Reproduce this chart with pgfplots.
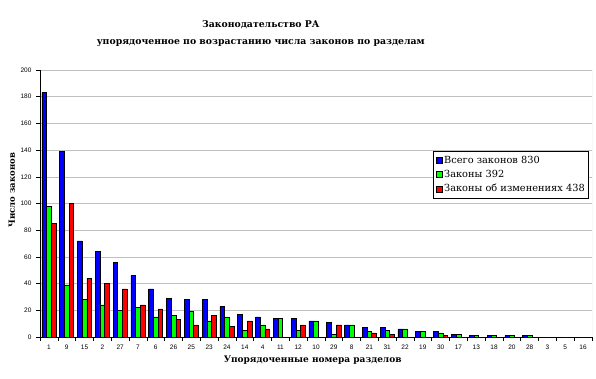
\documentclass[border=0pt]{standalone}
\usepackage{pgfplots}
\pgfplotsset{compat=1.18}
\usepackage{fontspec}
\setmainfont{DejaVu Serif}
\newfontfamily\ticksans{Liberation Sans}
\definecolor{bblue}{RGB}{0,0,255}
\definecolor{bgreen}{RGB}{0,255,0}
\definecolor{bred}{RGB}{255,0,0}
\definecolor{gridgray}{RGB}{192,192,192}
\begin{document}
\begin{tikzpicture}
\useasboundingbox (0,0) rectangle (596pt,378pt);
\begin{axis}[
  at={(40pt,41pt)}, anchor=south west,
  width=552pt, height=267pt, scale only axis,
  ybar=0pt, bar width=4.7pt,
  xmin=-0.5, xmax=30.5, ymin=0, ymax=200,
  ytick={0,20,...,200},
  xtick={-0.5,0.5,...,30.5},
  x tick label as interval,
  xticklabels={1,9,15,2,27,7,6,26,25,23,24,14,4,11,12,10,29,8,21,31,22,19,30,17,13,18,20,28,3,5,16},
  axis lines*=left,
  axis line style={black, line width=0.6pt},
  tick align=outside,
  major tick length=4pt,
  tick style={black, line width=0.6pt},
  ymajorgrids, grid style={gridgray, line width=0.6pt},
  /pgf/number format/assume math mode=true,
  tick label style={font=\ticksans\fontsize{6.5}{7}\selectfont},
  yticklabel style={xshift=-1pt},
  title={Законодательство РА\\упорядоченное по возрастанию числа законов по разделам},
  title style={at={(axis description cs:0.40,1.114)}, anchor=center, align=center,
    font=\bfseries\fontsize{9.3}{17}\selectfont},
  xlabel={Упорядоченные номера разделов},
  xlabel style={at={(axis description cs:0.494,-0.086)}, anchor=center, font=\bfseries\fontsize{9}{10}\selectfont},
  ylabel={Число законов},
  ylabel style={at={(axis description cs:-0.051,0.55)}, anchor=center, rotate=0, font=\bfseries\fontsize{8.5}{10}\selectfont},
  legend style={at={(axis description cs:0.9946,0.6966)}, anchor=north east,
    draw=black, line width=0.6pt, font=\fontsize{9.8}{10}\selectfont,
    row sep=1.5pt, inner xsep=2pt, inner ysep=2.5pt, cells={anchor=west}},
  legend image code/.code={\draw[#1, draw=black, line width=0.4pt] (0pt,-3pt) rectangle (6pt,3pt);},
]
\addplot[fill=bblue, draw=black, line width=0.6pt] coordinates {
(0,183) (1,139) (2,72) (3,64) (4,56) (5,46) (6,36) (7,29) (8,28) (9,28)
(10,23) (11,17) (12,15) (13,14) (14,14) (15,12) (16,11) (17,9) (18,7) (19,7)
(20,6) (21,4) (22,4) (23,2) (24,1) (25,1) (26,1) (27,1) (28,0) (29,0) (30,0)};
\addplot[fill=bgreen, draw=black, line width=0.6pt] coordinates {
(0,98) (1,39) (2,28) (3,24) (4,20) (5,22) (6,15) (7,16) (8,19) (9,12)
(10,15) (11,5) (12,9) (13,14) (14,5) (15,12) (16,2) (17,9) (18,4) (19,5)
(20,6) (21,4) (22,3) (23,2) (24,1) (25,1) (26,1) (27,1) (28,0) (29,0) (30,0)};
\addplot[fill=bred, draw=black, line width=0.6pt] coordinates {
(0,85) (1,100) (2,44) (3,40) (4,36) (5,24) (6,21) (7,13) (8,9) (9,16)
(10,8) (11,12) (12,6) (13,0) (14,9) (15,0) (16,9) (17,0) (18,3) (19,2)
(20,0) (21,0) (22,1) (23,0) (24,0) (25,0) (26,0) (27,0) (28,0) (29,0) (30,0)};
\legend{Всего законов 830, Законы 392, Законы об изменениях 438}
\draw[gridgray, line width=0.6pt] (rel axis cs:1,0) -- (rel axis cs:1,1);
\end{axis}
\end{tikzpicture}
\end{document}
